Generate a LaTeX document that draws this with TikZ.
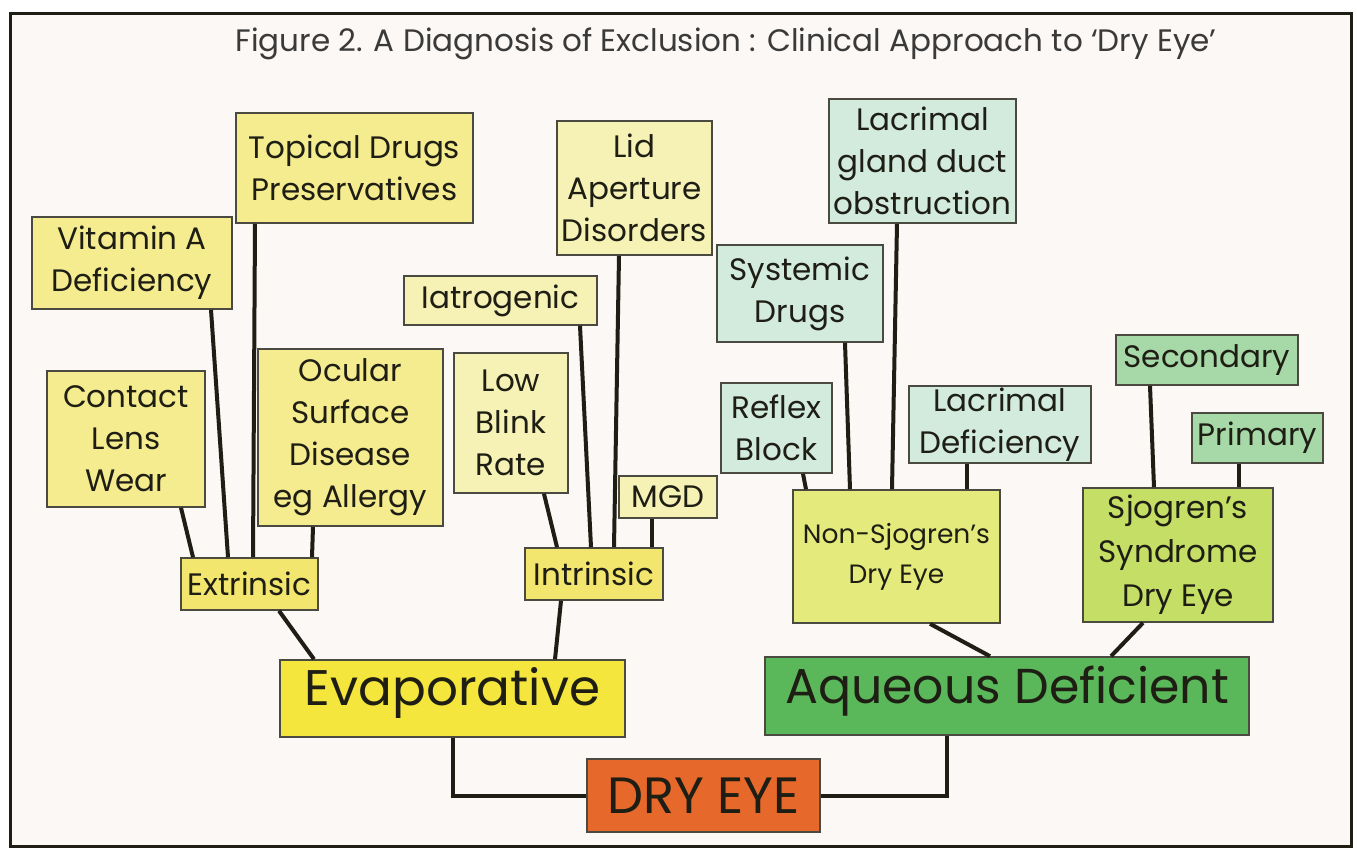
\documentclass[tikz,border=0pt]{standalone}
\usepackage{fontspec}
\setmainfont{Poppins}
\usepackage{tikz}

\definecolor{paper}{HTML}{FBF8F5}
\definecolor{ink}{HTML}{1E1E14}
\definecolor{titleink}{HTML}{3A3A3A}
\definecolor{boxline}{HTML}{4A4A40}
\definecolor{evapY}{HTML}{F4E63C}
\definecolor{extY}{HTML}{F3E66E}
\definecolor{leafY}{HTML}{F5EC90}
\definecolor{paleY}{HTML}{F6F2B6}
\definecolor{mint}{HTML}{D2EBDC}
\definecolor{sjoG}{HTML}{A6D8A8}
\definecolor{aqG}{HTML}{5BB85A}
\definecolor{nsjY}{HTML}{E4EB7C}
\definecolor{sjoY}{HTML}{C4DE66}
\definecolor{dryO}{HTML}{E6682A}

\begin{document}
\begin{tikzpicture}[x=1pt,y=-1pt,
    box/.style={draw=boxline,line width=1.6pt,inner sep=0pt,align=center,text=ink,
      font=\fontsize{31}{42}\selectfont},
    big/.style={box,font=\fontsize{50}{58}\selectfont,text height=38pt,text depth=24pt},
    link/.style={line width=4pt,draw=ink}]

\useasboundingbox (0,0) rectangle (1357,848);
\draw[line width=3pt,draw=ink,fill=paper] (10,14) rectangle (1351,846);

%title
\node[text=titleink,font=\fontsize{31}{36}\selectfont] (title) at (726,44)
  {Figure 2. A Diagnosis of Exclusion : Clinical Approach to ‘Dry Eye’};

%evaporative side
\node[box,fill=leafY,minimum width=237,minimum height=110] (top) at (354.5,168) {Topical Drugs\\Preservatives};
\node[box,fill=leafY,minimum width=200,minimum height=92] (vit) at (132,263) {Vitamin A\\Deficiency};
\node[box,fill=leafY,minimum width=158,minimum height=136] (con) at (126,439) {Contact\\Lens\\Wear};
\node[box,fill=leafY,minimum width=185,minimum height=177] (ocu) at (350.5,437.5) {Ocular\\Surface\\Disease\\eg Allergy};
\node[box,fill=extY,minimum width=137,minimum height=52] (ext) at (249.5,584) {Extrinsic};

\node[box,fill=paleY,minimum width=193,minimum height=49] (iat) at (500.5,300.5) {Iatrogenic};
\node[box,fill=paleY,minimum width=114,minimum height=140] (low) at (511,423) {Low\\Blink\\Rate};
\node[box,fill=paleY,minimum width=155,minimum height=134] (lid) at (634.5,188) {Lid\\Aperture\\Disorders};
\node[box,fill=paleY,minimum width=98,minimum height=42] (mgd) at (668,497) {MGD};
\node[box,fill=extY,minimum width=138,minimum height=52] (int) at (594,574) {Intrinsic};

\node[big,fill=evapY,minimum width=345,minimum height=77] (evap) at (452.5,698.5) {Evaporative};

%aqueous side
\node[box,fill=mint,minimum width=187,minimum height=124] (lgd) at (922.5,161) {Lacrimal\\gland duct\\obstruction};
\node[box,fill=mint,minimum width=166,minimum height=97] (sys) at (800,293.5) {Systemic\\Drugs};
\node[box,fill=mint,minimum width=111,minimum height=90] (rfx) at (776.5,428) {Reflex\\Block};
\node[box,fill=mint,minimum width=182,minimum height=77] (lcd) at (1000,424.5) {Lacrimal\\Deficiency};
\node[box,fill=nsjY,minimum width=207,minimum height=133,font=\fontsize{26.5}{40}\selectfont] (nsj) at (896.5,556.5) {Non-Sjogren’s\\Dry Eye};

\node[box,fill=sjoG,minimum width=182,minimum height=50] (sec) at (1207,360) {Secondary};
\node[box,fill=sjoG,minimum width=131,minimum height=50] (pri) at (1257.5,438) {Primary};
\node[box,fill=sjoY,minimum width=190,minimum height=134,font=\fontsize{31}{44}\selectfont] (sjo) at (1178,555) {Sjogren’s\\Syndrome\\Dry Eye};

\node[big,fill=aqG,font=\fontsize{49}{58}\selectfont,minimum width=484,minimum height=78] (aq) at (1007,696) {Aqueous Deficient};

%root
\node[box,fill=dryO,minimum width=233,minimum height=73,font=\fontsize{51}{58}\selectfont] (dry) at (703.5,795.5) {DRY EYE};

%links to the boxes below
\foreach \a/\ax/\b/\bx in {con/181/ext/193, vit/211/ext/228, top/255/ext/253, ocu/313/ext/312,
    ext/279/evap/314, low/544/int/557, iat/580/int/591, lid/619/int/614, mgd/652/int/652,
    int/561/evap/555, rfx/803/nsj/806, sys/845/nsj/850, lgd/897/nsj/892, lcd/967/nsj/967,
    sec/1150/sjo/1154, pri/1239/sjo/1239, nsj/930/aq/990, sjo/1143/aq/1111}
  \draw[link] (\a.south -| \ax,0) -- (\b.north -| \bx,0);

\draw[link] (evap.south -| 453,0) |- (dry.west);
\draw[link] (aq.south -| 947,0) |- (dry.east);

\end{tikzpicture}
\end{document}
